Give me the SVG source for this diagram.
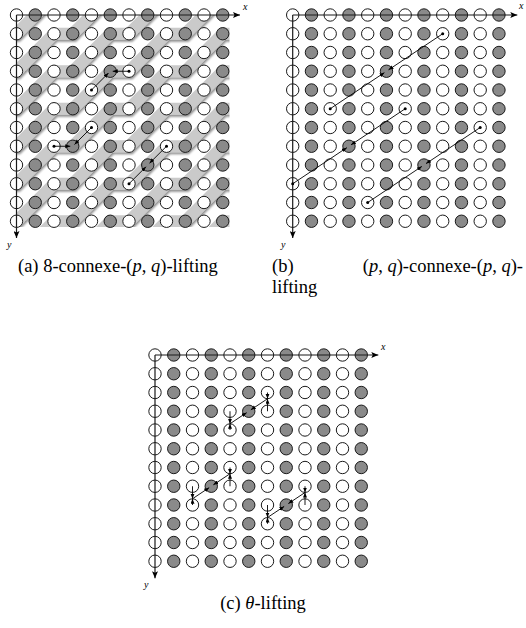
<svg xmlns="http://www.w3.org/2000/svg" width="526" height="628" viewBox="0 0 526 628">
<style>
.w{fill:#fff;stroke:#1a1a1a;stroke-width:1}
.g{fill:#8a8a8a;stroke:#1a1a1a;stroke-width:1}
.ax{fill:none;stroke:#1a1a1a;stroke-width:1.2;marker-end:url(#ah)}
.ln{fill:none;stroke:#000;stroke-width:0.9;marker-end:url(#lh)}
.dot{fill:#000}
.band{fill:none;stroke:#cacaca;stroke-width:12;stroke-linejoin:miter}
.cap{font-family:"Liberation Serif","Times New Roman",serif;font-size:18.5px;fill:#000}
.lab{font-family:"Liberation Serif","Times New Roman",serif;font-style:italic;font-size:10px;fill:#000}
.it{font-style:italic}
</style>
<defs>
<marker id="ah" markerWidth="8" markerHeight="6" refX="7" refY="3" orient="auto" markerUnits="userSpaceOnUse"><path d="M0,0 L7,3 L0,6 L1.5,3 z" fill="#000"/></marker>
<marker id="lh" markerWidth="6" markerHeight="5" refX="5" refY="2" orient="auto" markerUnits="userSpaceOnUse"><path d="M0,0 L5,2 L0,4 z" fill="#000"/></marker>
<g id="row">
<circle class="w" cx="0" cy="0" r="6.2"/><circle class="g" cx="18.75" cy="0" r="6.2"/><circle class="w" cx="37.5" cy="0" r="6.2"/><circle class="g" cx="56.25" cy="0" r="6.2"/><circle class="w" cx="75" cy="0" r="6.2"/><circle class="g" cx="93.75" cy="0" r="6.2"/><circle class="w" cx="112.5" cy="0" r="6.2"/><circle class="g" cx="131.25" cy="0" r="6.2"/><circle class="w" cx="150" cy="0" r="6.2"/><circle class="g" cx="168.75" cy="0" r="6.2"/><circle class="w" cx="187.5" cy="0" r="6.2"/><circle class="g" cx="206.25" cy="0" r="6.2"/>
</g>
<g id="grid">
<use href="#row" y="0"/><use href="#row" y="18.75"/><use href="#row" y="37.5"/><use href="#row" y="56.25"/><use href="#row" y="75"/><use href="#row" y="93.75"/><use href="#row" y="112.5"/><use href="#row" y="131.25"/><use href="#row" y="150"/><use href="#row" y="168.75"/><use href="#row" y="187.5"/><use href="#row" y="206.25"/>
</g>
<path id="bandp" d="M-21,108.75 L-2.25,90 L16.5,90 L54,52.5 L72.75,52.5 L110.25,15 L129,15 L166.5,-22.5 L185.25,-22.5 L222.75,-60 L241.5,-60 L260.25,-78.75"/>
<clipPath id="clipA"><rect x="16.5" y="15" width="213" height="212"/></clipPath>
<filter id="sh" x="-5%" y="-5%" width="110%" height="110%">
<feGaussianBlur in="SourceAlpha" stdDeviation="1"/>
<feOffset dx="1.2" dy="1.6" result="o"/>
<feComponentTransfer in="o" result="s"><feFuncA type="linear" slope="0.45"/></feComponentTransfer>
<feMerge><feMergeNode in="s"/><feMergeNode in="SourceGraphic"/></feMerge>
</filter>
</defs>

<!-- Panel (a) -->
<g id="panel-a">
<g id="bands-a" clip-path="url(#clipA)">
<g filter="url(#sh)">
<use href="#bandp" class="band" y="-56.25"/><use href="#bandp" class="band" y="-18.75"/><use href="#bandp" class="band" y="18.75"/><use href="#bandp" class="band" y="56.25"/><use href="#bandp" class="band" y="93.75"/><use href="#bandp" class="band" y="131.25"/><use href="#bandp" class="band" y="168.75"/><use href="#bandp" class="band" y="206.25"/><use href="#bandp" class="band" y="243.75"/><use href="#bandp" class="band" y="281.25"/>
</g>
</g>
<g id="grid-a"><use href="#grid" x="16.5" y="15"/></g>
<g id="axes-a">
<line class="ax" x1="16.5" y1="15" x2="240" y2="15"/>
<line class="ax" x1="16.5" y1="15" x2="16.5" y2="238"/>
<text class="lab" x="243" y="10">x</text>
<text class="lab" x="7" y="248">y</text>
</g>
<g id="connectors-a">
<line class="ln" x1="91.5" y1="90" x2="108.48" y2="73.02"/>
<line class="ln" x1="129" y1="71.25" x2="112.75" y2="71.25"/>
<line class="ln" x1="91.5" y1="127.5" x2="74.52" y2="144.48"/>
<line class="ln" x1="54" y1="146.25" x2="70.25" y2="146.25"/>
<line class="ln" x1="166.5" y1="146.25" x2="149.52" y2="163.23"/>
<line class="ln" x1="129" y1="183.75" x2="145.98" y2="166.77"/>
<circle class="dot" cx="91.5" cy="90" r="1.5"/><circle class="dot" cx="129" cy="71.25" r="1.5"/>
<circle class="dot" cx="91.5" cy="127.5" r="1.5"/><circle class="dot" cx="54" cy="146.25" r="1.5"/>
<circle class="dot" cx="166.5" cy="146.25" r="1.5"/><circle class="dot" cx="129" cy="183.75" r="1.5"/>
</g>
<text class="cap" x="18" y="272">(a) 8-connexe-(<tspan class="it">p</tspan>, <tspan class="it">q</tspan>)-lifting</text>
</g>

<!-- Panel (b) -->
<g id="panel-b">
<g id="grid-b"><use href="#grid" x="292.7" y="15"/></g>
<g id="axes-b">
<line class="ax" x1="292.7" y1="15" x2="517.3" y2="15"/>
<line class="ax" x1="292.7" y1="15" x2="292.7" y2="238"/>
<text class="lab" x="519" y="9">x</text>
<text class="lab" x="281" y="248">y</text>
</g>
<g id="connectors-b">
<line class="ln" x1="330.2" y1="108.75" x2="384.37" y2="72.64"/>
<line class="ln" x1="442.7" y1="33.75" x2="388.53" y2="69.86"/>
<line class="ln" x1="292.7" y1="183.75" x2="346.87" y2="147.64"/>
<line class="ln" x1="405.2" y1="108.75" x2="351.03" y2="144.86"/>
<line class="ln" x1="367.7" y1="202.5" x2="421.87" y2="166.39"/>
<line class="ln" x1="480.2" y1="127.5" x2="426.03" y2="163.61"/>
<circle class="dot" cx="330.2" cy="108.75" r="1.5"/><circle class="dot" cx="442.7" cy="33.75" r="1.5"/>
<circle class="dot" cx="292.7" cy="183.75" r="1.5"/><circle class="dot" cx="405.2" cy="108.75" r="1.5"/>
<circle class="dot" cx="367.7" cy="202.5" r="1.5"/><circle class="dot" cx="480.2" cy="127.5" r="1.5"/>
</g>
<text class="cap" x="272" y="272">(b)</text>
<text class="cap" x="523" y="272" text-anchor="end">(<tspan class="it">p</tspan>, <tspan class="it">q</tspan>)-connexe-(<tspan class="it">p</tspan>, <tspan class="it">q</tspan>)-</text>
<text class="cap" x="272" y="293">lifting</text>
</g>

<!-- Panel (c) -->
<g id="panel-c">
<g id="grid-c"><use href="#grid" x="155" y="355"/></g>
<g id="axes-c">
<line class="ax" x1="155" y1="355" x2="378.3" y2="355"/>
<line class="ax" x1="155" y1="355" x2="155" y2="578.3"/>
<text class="lab" x="381" y="350">x</text>
<text class="lab" x="144" y="588">y</text>
</g>
<g id="connectors-c">
<line class="ln" x1="230" y1="411.25" x2="230" y2="423.75"/>
<line class="ln" x1="230" y1="430" x2="230" y2="423.75"/>
<line class="ln" x1="267.5" y1="392.5" x2="267.5" y2="398.75"/>
<line class="ln" x1="267.5" y1="411.25" x2="267.5" y2="398.75"/>
<line class="ln" x1="230" y1="423.75" x2="246.67" y2="412.64"/>
<line class="ln" x1="267.5" y1="398.75" x2="250.83" y2="409.86"/>

<line class="ln" x1="230" y1="467.5" x2="230" y2="473.75"/>
<line class="ln" x1="230" y1="486.25" x2="230" y2="473.75"/>
<line class="ln" x1="192.5" y1="486.25" x2="192.5" y2="498.75"/>
<line class="ln" x1="192.5" y1="505" x2="192.5" y2="498.75"/>
<line class="ln" x1="230" y1="473.75" x2="213.33" y2="484.86"/>
<line class="ln" x1="192.5" y1="498.75" x2="209.17" y2="487.64"/>

<line class="ln" x1="305" y1="486.25" x2="305" y2="492.5"/>
<line class="ln" x1="305" y1="505" x2="305" y2="492.5"/>
<line class="ln" x1="267.5" y1="505" x2="267.5" y2="517.5"/>
<line class="ln" x1="267.5" y1="523.75" x2="267.5" y2="517.5"/>
<line class="ln" x1="305" y1="492.5" x2="288.33" y2="503.61"/>
<line class="ln" x1="267.5" y1="517.5" x2="284.17" y2="506.39"/>
</g>
<text class="cap" x="263" y="609" text-anchor="middle">(c) <tspan class="it">θ</tspan>-lifting</text>
</g>
</svg>
